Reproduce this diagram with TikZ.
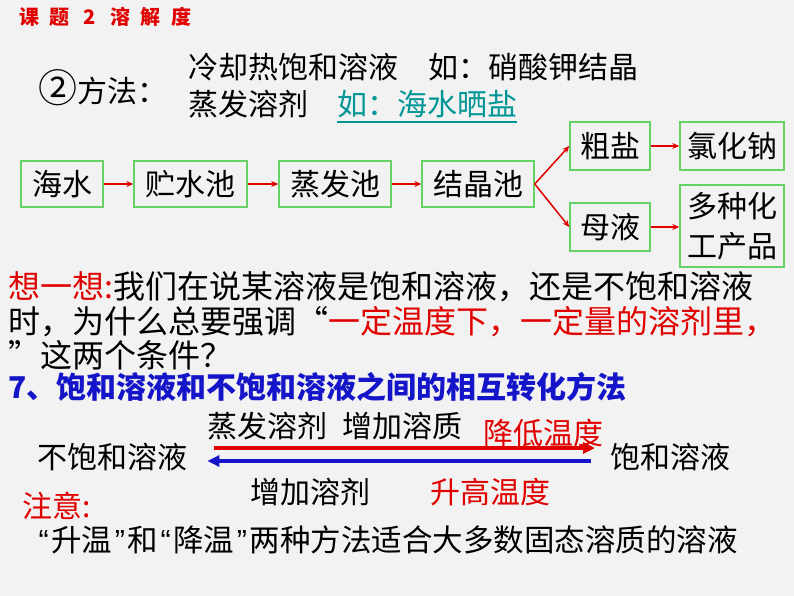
\documentclass[tikz,border=0pt]{standalone}
\usepackage{fontspec}
\setmainfont{Noto Sans CJK SC}
\newfontfamily\quotefont{Liberation Sans}
\usetikzlibrary{arrows.meta}
\definecolor{tired}{RGB}{224,0,0}
\definecolor{tiblue}{RGB}{20,20,200}
\definecolor{titeal}{RGB}{0,150,150}
\definecolor{boxgreen}{RGB}{100,210,100}
\definecolor{slidebg}{RGB}{242,242,242}
\newcommand\halfq[1]{\makebox[0.5em]{\quotefont #1}}
\begin{document}
\begin{tikzpicture}[x=1pt, y=-1pt,
        pool/.style={draw=boxgreen, line width=1.5pt, align=center, inner sep=0pt, minimum height=46pt, font=\fontsize{30}{40}\selectfont},
        flow/.style={draw=tired, line width=1.5pt, -{Stealth[length=7pt,width=6pt]}},
        swap/.style={line width=4pt, -{Triangle[length=12pt,width=11pt]}},
        line/.style={anchor=west, inner sep=0pt, font=\fontsize{30}{36}\selectfont},
        bigline/.style={anchor=west, inner sep=0pt, font=\fontsize{32}{36}\selectfont}]
        \fill[slidebg] (0,0) rectangle (794,596);
        \useasboundingbox (0,0) rectangle (794,596);
        \foreach \ch [count=\i from 0] in {课,题,2,溶,解,度}
            \node[text=tired, font=\fontsize{20}{22}\selectfont\bfseries] (title-\i) at (29+30.4*\i,17) {\ch};
        \node[line] (method) at (38,88) {{\fontsize{39}{39}\selectfont ②}方法：};
        \node[line] (cooling) at (188,67) {冷却热饱和溶液　如：硝酸钾结晶};
        \node[line] (evap) at (188,104) {蒸发溶剂};
        \node[line, text=titeal] (seasalt) at (337,104) {如：海水晒盐};
        \draw[titeal, line width=1.2pt] ([yshift=-4pt]seasalt.south west) -- ([yshift=-4pt]seasalt.south east);
        \node[pool, minimum width=82pt] (hai) at (62,184) {海水};
        \node[pool, minimum width=113pt] (zhu) at (190.5,184) {贮水池};
        \node[pool, minimum width=112pt] (zheng) at (335,184) {蒸发池};
        \node[pool, minimum width=112pt] (jie) at (478,184) {结晶池};
        \node[pool, minimum width=80pt, minimum height=48pt] (cu) at (610,146) {粗盐};
        \node[pool, minimum width=104pt, minimum height=48pt] (lv) at (732,146) {氯化钠};
        \node[pool, minimum width=80pt, minimum height=48pt] (mu) at (610,227) {母液};
        \node[pool, minimum width=104pt, minimum height=82pt] (duo) at (732,226) {多种化\\工产品};
        \draw[flow] (hai) -- (zhu);
        \draw[flow] (zhu) -- (zheng);
        \draw[flow] (zheng) -- (jie);
        \draw[flow] (jie.east) -- (cu.west);
        \draw[flow] (jie.east) -- (mu.west);
        \draw[flow] (cu) -- (lv);
        \draw[flow] (mu) -- (mu -| duo.west);
        \node[bigline] (think1) at (8,287) {\textcolor{tired}{想一想:}我们在说某溶液是饱和溶液，还是不饱和溶液};
        \node[bigline] (think2) at (8,322) {时，为什么总要强调“\textcolor{tired}{一定温度下，一定量的溶剂里，}};
        \node[bigline] (think3) at (8,355) {”这两个条件？};
        \node[line, text=tiblue, font=\fontsize{30}{36}\selectfont\bfseries] (convert) at (8,387) {7、饱和溶液和不饱和溶液之间的相互转化方法};
        \node[line] (uns) at (37,457) {不饱和溶液};
        \node[line] (sat) at (610,457) {饱和溶液};
        \draw[swap, tired, shorten <=27pt, shorten >=15pt] ([yshift=9pt]uns.east) -- ([yshift=9pt]sat.west);
        \draw[swap, tiblue, shorten <=19pt, shorten >=20pt] ([yshift=-4pt]sat.west) -- ([yshift=-4pt]uns.east);
        \node[line] (evapadd) at (207,426) {蒸发溶剂\hspace{0.5em}增加溶质};
        \node[line, text=tired] (cool) at (483,433) {降低温度};
        \node[line] (addsolv) at (250,492) {增加溶剂};
        \node[line, text=tired] (heat) at (430,492) {升高温度};
        \node[line, text=tired] (note) at (22,506) {注意:};
        \node[line, font=\fontsize{30.5}{36}\selectfont] (rule) at (36,540) {\halfq{“}升温\halfq{”}和\halfq{“}降温\halfq{”}两种方法适合大多数固态溶质的溶液};
    \end{tikzpicture}
\end{document}
